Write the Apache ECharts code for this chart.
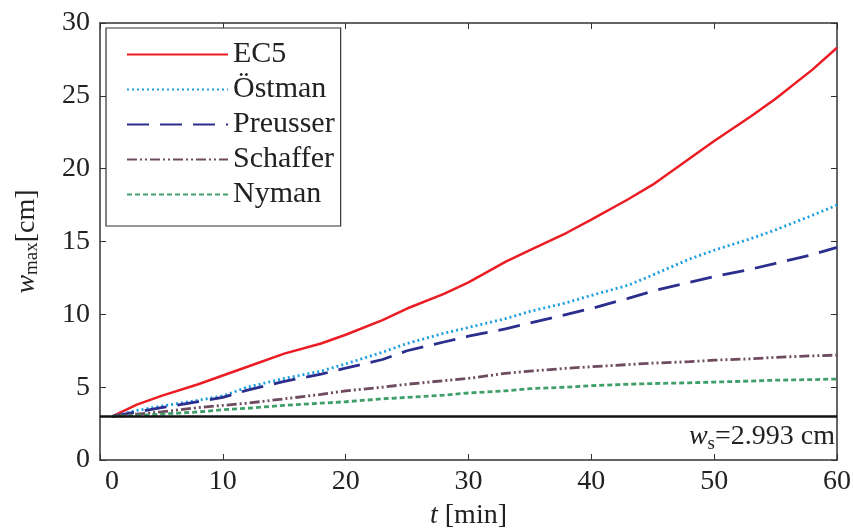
<!DOCTYPE html>
<html>
<head>
<meta charset="utf-8">
<script src="https://cdn.jsdelivr.net/npm/echarts@6/dist/echarts.min.js"></script>
<style>
  html, body { margin: 0; padding: 0; background: #fff; }
  #chart_div { width: 853px; height: 530px; }
</style>
</head>
<body>
<div id="chart_div"></div>
<script>
// time in minutes
const times = [1, 3, 5, 8, 10, 12, 15, 18, 20, 23, 25, 28, 30, 33, 35, 38, 40, 43, 45, 48, 50, 53, 55, 58, 60];
const ec5 = [3.0, 3.8, 4.4, 5.2, 5.8, 6.4, 7.3, 8.0, 8.6, 9.6, 10.4, 11.4, 12.2, 13.6, 14.4, 15.6, 16.5, 17.9, 18.9, 20.7, 21.9, 23.6, 24.8, 26.8, 28.3];
const ostman = [3.0, 3.4, 3.7, 4.1, 4.4, 5.0, 5.6, 6.1, 6.6, 7.4, 8.0, 8.7, 9.1, 9.7, 10.2, 10.8, 11.3, 12.0, 12.7, 13.8, 14.4, 15.2, 15.8, 16.8, 17.5];
const preusser = [3.0, 3.3, 3.6, 4.0, 4.3, 4.8, 5.4, 5.9, 6.3, 6.9, 7.5, 8.1, 8.5, 9.0, 9.4, 10.0, 10.4, 11.1, 11.6, 12.2, 12.6, 13.1, 13.5, 14.1, 14.6];
const schaffer = [3.0, 3.15, 3.3, 3.6, 3.75, 3.9, 4.2, 4.5, 4.75, 5.0, 5.2, 5.45, 5.6, 5.95, 6.1, 6.3, 6.4, 6.55, 6.65, 6.75, 6.85, 6.95, 7.05, 7.15, 7.2];
const nyman = [3.0, 3.05, 3.15, 3.3, 3.45, 3.55, 3.75, 3.9, 4.0, 4.2, 4.3, 4.45, 4.6, 4.75, 4.9, 5.0, 5.1, 5.2, 5.25, 5.3, 5.35, 5.42, 5.48, 5.52, 5.56];
const ws = 2.993;

const FONT = "Liberation Serif";
const pair = (ys) => times.map((t, i) => [t, ys[i]]);

const myChart = echarts.init(document.getElementById("chart_div"));

const mk = (name, data, color, type, width) => ({
  name: name,
  type: "line",
  data: pair(data),
  symbol: "none",
  color: color,
  lineStyle: { color: color, width: width, type: type },
  z: 3
});

// box edges: no labels, ticks pointing in
const frameAxis = (position, max, interval) => ({
  type: "value",
  position: position,
  min: 0,
  max: max,
  interval: interval,
  axisLine: { show: true, onZero: false, lineStyle: { color: "#333", width: 1.5 } },
  axisTick: { show: true, inside: true, length: 6, lineStyle: { color: "#333" } },
  axisLabel: { show: false },
  splitLine: { show: false }
});

const option = {
  animation: false,
  grid: { left: 100, right: 16, top: 23, bottom: 70, outerBoundsMode: "none" },
  legend: {
    orient: "vertical",
    left: 106,
    top: 28,
    padding: [9, 6, 14, 20],
    itemGap: 0,
    itemWidth: 101,
    itemHeight: 14,
    itemStyle: { opacity: 0 },
    backgroundColor: "#fff",
    borderColor: "#333",
    borderWidth: 1.2,
    borderRadius: 0,
    textStyle: { fontFamily: FONT, fontSize: 30, color: "#222", lineHeight: 35 },
    data: ["EC5", "Östman", "Preusser", "Schaffer", "Nyman"]
  },
  xAxis: [
    {
      type: "value",
      min: 0,
      max: 60,
      interval: 10,
      name: "{i|t} [min]",
      nameLocation: "middle",
      nameGap: 42,
      nameTextStyle: {
        fontFamily: FONT,
        fontSize: 28,
        color: "#222",
        rich: { i: { fontFamily: FONT, fontSize: 28, fontStyle: "italic", color: "#222" } }
      },
      axisLine: { onZero: false, lineStyle: { color: "#333", width: 1.5 } },
      axisTick: { inside: true, length: 6, lineStyle: { color: "#333" } },
      splitLine: { show: false },
      axisLabel: {
        fontFamily: FONT,
        fontSize: 28,
        color: "#222",
        margin: 8,
        formatter: (v) => (v === 0 ? "{z|0}" : String(v)),
        rich: { z: { fontFamily: FONT, fontSize: 28, color: "#222", padding: [0, 0, 0, 24] } }
      }
    },
    frameAxis("top", 60, 10)
  ],
  yAxis: [
    {
      type: "value",
      min: 0,
      max: 30,
      interval: 5,
      name: "{w|w}{s|max}{n|[cm]}",
      nameLocation: "middle",
      nameRotate: 90,
      nameGap: 58,
      nameTextStyle: {
        rich: {
          w: { fontFamily: FONT, fontSize: 28, fontStyle: "italic", color: "#222" },
          s: { fontFamily: FONT, fontSize: 19, color: "#222", verticalAlign: "bottom", padding: [12, 0, 0, 0] },
          n: { fontFamily: FONT, fontSize: 28, color: "#222" }
        }
      },
      axisLine: { show: true, onZero: false, lineStyle: { color: "#333", width: 1.5 } },
      axisTick: { show: true, inside: true, length: 6, lineStyle: { color: "#333" } },
      splitLine: { show: false },
      axisLabel: { fontFamily: FONT, fontSize: 28, color: "#222", margin: 10 }
    },
    frameAxis("right", 30, 5)
  ],
  series: [
    Object.assign(mk("EC5", ec5, "#ec1c24", "solid", 2.5), {
      markLine: {
        silent: true,
        symbol: "none",
        lineStyle: { color: "#111", width: 2.5, type: "solid" },
        label: {
          position: "insideEndBottom",
          distance: [2, 4],
          formatter: "{w|w}{s|s}{n|=2.993 cm}",
          rich: {
            w: { fontFamily: FONT, fontSize: 28, fontStyle: "italic", color: "#222" },
            s: { fontFamily: FONT, fontSize: 19, color: "#222", padding: [14, 0, 0, 0] },
            n: { fontFamily: FONT, fontSize: 28, color: "#222" }
          }
        },
        data: [{ yAxis: ws }]
      }
    }),
    mk("Östman", ostman, "#1b9ee0", [2, 3], 2.8),
    mk("Preusser", preusser, "#2b2e8c", [22, 11], 2.8),
    mk("Schaffer", schaffer, "#6e4b5f", [10, 3, 2, 3, 2, 3], 2.8),
    mk("Nyman", nyman, "#3f9f68", [5, 3], 2.8)
  ]
};

myChart.setOption(option);
</script>
</body>
</html>
